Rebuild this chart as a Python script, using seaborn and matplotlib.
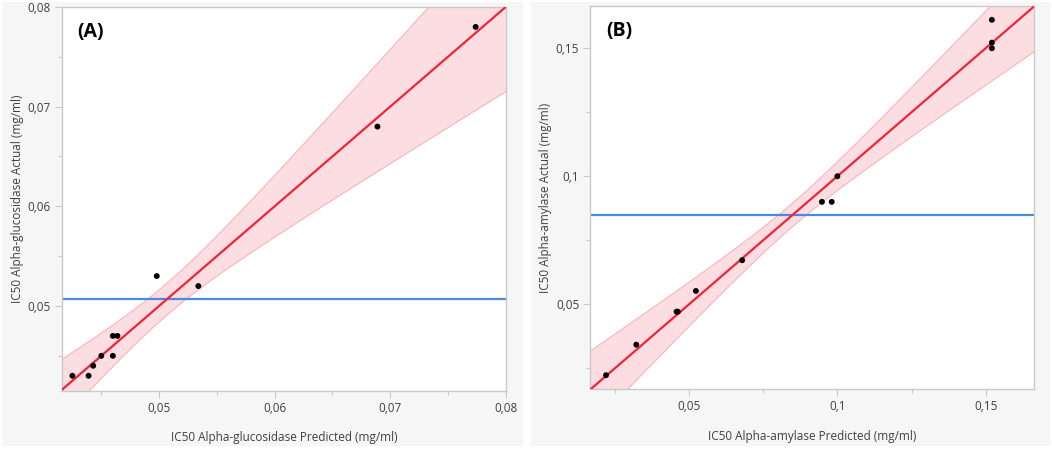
import numpy as np
import pandas as pd
import matplotlib
matplotlib.use("Agg")
import matplotlib.pyplot as plt
from matplotlib.patches import Rectangle
from matplotlib.ticker import FuncFormatter, MultipleLocator
import seaborn as sns

# (A) alpha-glucosidase, actual by predicted
pred_a = [0.0425, 0.0439, 0.0443, 0.0450, 0.0460, 0.0460, 0.0464, 0.0498, 0.0534, 0.0689, 0.0774]
actual_a = [0.043, 0.043, 0.044, 0.045, 0.045, 0.047, 0.047, 0.053, 0.052, 0.068, 0.078]
mean_a = 0.0507
band_mid_a = 0.0016     # half width of confidence curves at the mean
band_spread_a = 0.285   # growth of the half width away from the mean
lim_a = (0.0416, 0.0800)
ylim_a = (0.0415, 0.0800)

# (B) alpha-amylase
pred_b = [0.0220, 0.0322, 0.0458, 0.0462, 0.0523, 0.0679, 0.0948, 0.0981, 0.1000, 0.1521, 0.1521, 0.1521]
actual_b = [0.0223, 0.0342, 0.0471, 0.0471, 0.0552, 0.0672, 0.0900, 0.0900, 0.1000, 0.1611, 0.1522, 0.1500]
mean_b = 0.0847
band_mid_b = 0.0046
band_spread_b = 0.21
lim_b = (0.0167, 0.1663)
ylim_b = (0.0169, 0.1665)

RED = "#f0233a"
PINK = "#fcdde1"
PINK_EDGE = "#f6b5be"
BLUE = "#4a8be0"
GRAY = "#c9c9c9"
TXT = "#404040"


def comma(v, pos):
    return ("%g" % round(v, 4)).replace(".", ",")


def panel(ax, pred, actual, mean, mid, spread, xlim, ylim, major, minor, xlab, ylab, tag):
    df = pd.DataFrame({"pred": pred, "actual": actual})
    grid = np.linspace(xlim[0], xlim[1], 300)
    half = np.sqrt(mid ** 2 + (spread * (grid - mean)) ** 2)
    ax.fill_between(grid, grid - half, grid + half, facecolor=PINK, edgecolor="none", zorder=1)
    ax.plot(grid, grid - half, color=PINK_EDGE, lw=0.8, zorder=1)
    ax.plot(grid, grid + half, color=PINK_EDGE, lw=0.8, zorder=1)
    ax.axhline(mean, color=BLUE, lw=1.6, zorder=2)
    sns.lineplot(x=grid, y=grid, color=RED, lw=1.6, ax=ax, zorder=3)
    sns.scatterplot(data=df, x="pred", y="actual", color="black", s=18, edgecolor="none", ax=ax, zorder=4)

    ax.set_xlim(*xlim)
    ax.set_ylim(*ylim)
    for a in (ax.xaxis, ax.yaxis):
        a.set_major_locator(MultipleLocator(major))
        a.set_minor_locator(MultipleLocator(minor))
        a.set_major_formatter(FuncFormatter(comma))
    ax.tick_params(which="major", length=5, width=0.8, color=GRAY, labelsize=8.5, labelcolor=TXT, pad=3,
                   bottom=True, left=True)
    ax.tick_params(which="minor", length=3, width=0.8, color=GRAY, bottom=True, left=True)
    for s in ax.spines.values():
        s.set_color(GRAY)
        s.set_linewidth(1.0)
    ax.set_facecolor("white")
    ax.set_xlabel(xlab, fontsize=8.5, color=TXT)
    ax.set_ylabel(ylab, fontsize=8.5, color=TXT)
    ax.xaxis.set_label_coords(0.5, -0.106)
    ax.yaxis.set_label_coords(-0.086, 0.5)
    ax.text(0.035, 0.935, tag, transform=ax.transAxes, fontsize=14, fontweight="bold",
            color="black", va="center", ha="left")


sns.set_style("white")
plt.rcParams["font.family"] = ["Open Sans", "DejaVu Sans"]

fig = plt.figure(figsize=(10.52, 4.49), dpi=100, facecolor="white")
W, H = 1052.0, 449.0
fig.patches.append(Rectangle((2 / W, 3 / H), 521 / W, 444 / H, transform=fig.transFigure,
                             facecolor="#f6f6f6", edgecolor="none", zorder=-10))
fig.patches.append(Rectangle((531 / W, 3 / H), 519 / W, 444 / H, transform=fig.transFigure,
                             facecolor="#f6f6f6", edgecolor="none", zorder=-10))

ax1 = fig.add_axes([62 / W, (H - 390.7) / H, 443.7 / W, 383.7 / H])
ax2 = fig.add_axes([590.3 / W, (H - 389) / H, 443.7 / W, 383 / H])

panel(ax1, pred_a, actual_a, mean_a, band_mid_a, band_spread_a, lim_a, ylim_a, 0.01, 0.005,
      "IC50 Alpha-glucosidase Predicted (mg/ml)", "IC50 Alpha-glucosidase Actual (mg/ml)", "(A)")
panel(ax2, pred_b, actual_b, mean_b, band_mid_b, band_spread_b, lim_b, ylim_b, 0.05, 0.025,
      "IC50 Alpha-amylase Predicted (mg/ml)", "IC50 Alpha-amylase Actual (mg/ml)", "(B)")

fig.savefig("out.png", dpi=100, facecolor="white")
